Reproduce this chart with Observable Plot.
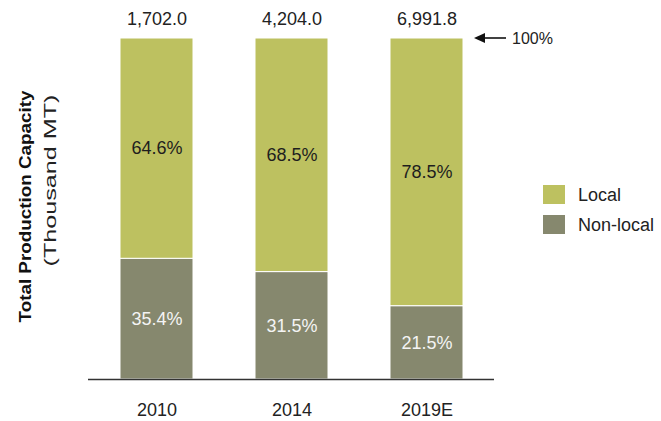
<!DOCTYPE html>
<html>
<head>
<meta charset="utf-8">
<script src="https://cdn.jsdelivr.net/npm/d3@7"></script>
<script src="https://cdn.jsdelivr.net/npm/@observablehq/plot@0.6"></script>
<style>
  html, body { margin: 0; padding: 0; background: #fff; }
  #chart { width: 661px; height: 421px; }
</style>
</head>
<body>
<div id="chart"></div>
<script>
const years = ["2010", "2014", "2019E"];
const totals = [1702.0, 4204.0, 6991.8];
const localShare = [64.6, 68.5, 78.5];
const nonLocalShare = [35.4, 31.5, 21.5];
const seriesNames = ["Local", "Non-local"];
const seriesColors = ["#bdc160", "#86886e"];
const yTitle = "Total Production Capacity";
const yUnit = "(Thousand MT)";
const refLabel = "100%";

// Non-local first so it stacks at the bottom
const rows = [];
years.forEach((yr, i) => {
  rows.push({year: yr, type: "Non-local", share: nonLocalShare[i]});
  rows.push({year: yr, type: "Local", share: localShare[i]});
});
const totalRows = years.map((yr, i) => ({year: yr, total: totals[i]}));

const font = "'Liberation Sans', Arial, sans-serif";

function bandwidthOf(x) {
  const b = x.bandwidth;
  return typeof b === "function" ? b() : b;
}

function arrowMark(index, scales, values, dimensions) {
  const x = scales.x;
  const bw = bandwidthOf(x);
  const x0 = x(years[years.length - 1]) + bw + 11;
  const y0 = scales.y(100);
  const g = d3.create("svg:g");
  g.append("line").attr("x1", x0 + 8).attr("x2", x0 + 32).attr("y1", y0).attr("y2", y0)
    .attr("stroke", "#111").attr("stroke-width", 1.6);
  g.append("path").attr("d", `M${x0},${y0} L${x0 + 11},${y0 - 5} L${x0 + 11},${y0 + 5} Z`).attr("fill", "#111");
  g.append("text").attr("x", x0 + 38).attr("y", y0).attr("dy", "0.35em").attr("text-anchor", "start")
    .attr("font-family", font).attr("font-size", 16).attr("fill", "#222").text(refLabel);
  return g.node();
}

function legendMark(index, scales, values, dimensions) {
  const g = d3.create("svg:g");
  const lx = 543, ly = 185;
  seriesNames.forEach((name, i) => {
    const y = ly + i * 30;
    g.append("rect").attr("x", lx).attr("y", y).attr("width", 22).attr("height", 19)
      .attr("fill", scales.color(name));
    g.append("text").attr("x", lx + 35).attr("y", y + 10).attr("dy", "0.35em").attr("text-anchor", "start")
      .attr("font-family", font).attr("font-size", 18).attr("fill", "#222").text(name);
  });
  return g.node();
}

function titleMark(index, scales, values, dimensions) {
  const {marginTop, marginBottom, height} = dimensions;
  const cy = marginTop + (height - marginTop - marginBottom) / 2;
  const g = d3.create("svg:g").attr("font-family", font);
  g.append("text").attr("transform", `translate(25,${cy - 2}) rotate(-90)`).attr("dy", "0.35em")
    .attr("text-anchor", "middle").attr("font-weight", "bold").attr("font-size", 17)
    .attr("textLength", 232).attr("lengthAdjust", "spacingAndGlyphs").attr("fill", "#111").text(yTitle);
  g.append("text").attr("transform", `translate(50,${cy - 28}) rotate(-90)`).attr("dy", "0.35em")
    .attr("text-anchor", "middle").attr("font-size", 17)
    .attr("textLength", 172).attr("lengthAdjust", "spacingAndGlyphs").attr("fill", "#222").text(yUnit);
  return g.node();
}

const chart = Plot.plot({
  width: 661,
  height: 421,
  marginLeft: 88,
  marginRight: 167,
  marginTop: 38,
  marginBottom: 42,
  style: {fontFamily: font, fontSize: "18px", color: "#222", background: "#fff"},
  x: {domain: years, paddingInner: 0.46, paddingOuter: 0.23, label: null, tickSize: 0, tickPadding: 24},
  y: {domain: [0, 100], axis: null},
  color: {domain: seriesNames, range: seriesColors},
  marks: [
    Plot.barY(rows, Plot.stackY({x: "year", y: "share", fill: "type", stroke: "white", strokeWidth: 1})),
    Plot.text(rows, Plot.stackY({x: "year", y: "share", z: "type",
      text: d => d.type === "Local" ? d.share.toFixed(1) + "%" : "", fill: "#1e1e1e", fontSize: 18})),
    Plot.text(rows, Plot.stackY({x: "year", y: "share", z: "type",
      text: d => d.type === "Non-local" ? d.share.toFixed(1) + "%" : "", fill: "#f4f4f4", fontSize: 18})),
    Plot.text(totalRows, {x: "year", y: () => 100, text: d => d3.format(",.1f")(d.total), dy: -19, fill: "#222", fontSize: 18}),
    Plot.ruleY([0], {stroke: "#333", strokeWidth: 1.5}),
    titleMark,
    arrowMark,
    legendMark
  ]
});
document.getElementById("chart").appendChild(chart);
</script>
</body>
</html>
